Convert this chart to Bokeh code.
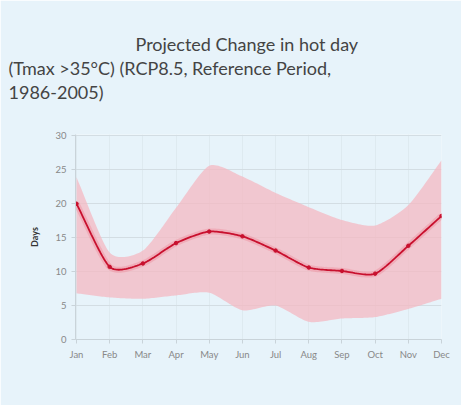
import numpy as np
from bokeh.plotting import figure
from bokeh.models import Range1d, FixedTicker, Title
from bokeh.embed import file_html
from bokeh.resources import INLINE

months = ["Jan", "Feb", "Mar", "Apr", "May", "Jun", "Jul", "Aug", "Sep", "Oct", "Nov", "Dec"]
mean_days = [20.0, 10.7, 11.2, 14.2, 15.9, 15.2, 13.1, 10.6, 10.1, 9.7, 13.8, 18.2]
upper_days = [23.9, 12.8, 13.1, 19.4, 25.6, 24.0, 21.6, 19.5, 17.6, 16.8, 19.8, 26.4]
lower_days = [6.8, 6.2, 6.0, 6.5, 6.9, 4.3, 5.0, 2.6, 3.1, 3.3, 4.5, 6.0]
y_ticks = [0, 5, 10, 15, 20, 25, 30]

BG = "#e7f3fa"
FONT = "Lato"


def smooth(xs, ys, n=20, k=0.7):
    """Render helper: cardinal spline path through the given points."""
    xs = np.asarray(xs, float)
    ys = np.asarray(ys, float)
    m = len(xs)
    tx = np.zeros(m)
    ty = np.zeros(m)
    for i in range(m):
        a = max(i - 1, 0)
        b = min(i + 1, m - 1)
        tx[i] = k * (xs[b] - xs[a]) / (b - a)
        ty[i] = k * (ys[b] - ys[a]) / (b - a)
    ox, oy = [], []
    t = np.linspace(0, 1, n, endpoint=False)
    h00 = 2 * t ** 3 - 3 * t ** 2 + 1
    h10 = t ** 3 - 2 * t ** 2 + t
    h01 = -2 * t ** 3 + 3 * t ** 2
    h11 = t ** 3 - t ** 2
    for i in range(m - 1):
        ox.extend(h00 * xs[i] + h10 * tx[i] + h01 * xs[i + 1] + h11 * tx[i + 1])
        oy.extend(h00 * ys[i] + h10 * ty[i] + h01 * ys[i + 1] + h11 * ty[i + 1])
    ox.append(xs[-1])
    oy.append(ys[-1])
    return np.array(ox), np.array(oy)


xi = list(range(len(months)))

p = figure(width=461, height=405, output_backend="svg", toolbar_location=None,
           x_range=Range1d(-0.03, 11.0), y_range=Range1d(0, 30.2))
p.min_border_left = 75
p.min_border_right = 20
p.min_border_bottom = 66
p.min_border_top = 134
p.background_fill_color = BG
p.border_fill_color = BG
p.outline_line_color = None

ux, uy = smooth(xi, upper_days)
lx, ly = smooth(xi, lower_days)
p.patch(np.concatenate([ux, lx[::-1]]), np.concatenate([uy, ly[::-1]]),
        fill_color="#f4b8c1", fill_alpha=0.75, line_color=None)

mx, my = smooth(xi, mean_days)
p.line(mx, my, line_color="#ef7f8f", line_width=6, line_alpha=0.35)
p.line(mx, my, line_color="#c8102e", line_width=1.8)
p.scatter(xi, mean_days, size=3.5, color="#c8102e")

p.xaxis.ticker = FixedTicker(ticks=xi)
p.xaxis.major_label_overrides = {i: m for i, m in enumerate(months)}
p.yaxis.ticker = FixedTicker(ticks=y_ticks)
p.yaxis.axis_label = "Days"
p.yaxis.axis_label_text_font = FONT
p.yaxis.axis_label_text_font_style = "bold"
p.yaxis.axis_label_text_font_size = "9px"
p.yaxis.axis_label_text_color = "#333333"
p.yaxis.axis_label_standoff = 12
for ax in (p.xaxis, p.yaxis):
    ax.major_label_text_font = FONT
    ax.major_label_text_font_size = "9.5px"
    ax.major_label_text_color = "#888888"
    ax.axis_line_color = "#c9d3d9"
    ax.major_tick_line_color = "#c9d3d9"
    ax.minor_tick_line_color = None
    ax.major_tick_in = 0
    ax.major_tick_out = 4
p.xgrid.ticker = FixedTicker(ticks=xi)
p.xgrid.grid_line_color = "#d8e4ea"
p.xgrid.grid_line_alpha = 0.6
p.ygrid.grid_line_color = "#d3dde3"

p.title = None
# spacer between the title block and the plot area
p.add_layout(Title(text=" ", text_font_size="26px", standoff=0), "above")
lines = ["1986-2005)", "(Tmax >35°C) (RCP8.5, Reference Period,", "Projected Change in hot day"]
offsets = [-67, -67, 60]
for txt, off in zip(lines, offsets):
    p.add_layout(Title(text=txt, align="left", offset=off, text_font=FONT,
                       text_font_size="18px", text_font_style="normal",
                       text_color="#444444", standoff=0), "above")

open("out.html", "w").write(file_html(p, INLINE))
